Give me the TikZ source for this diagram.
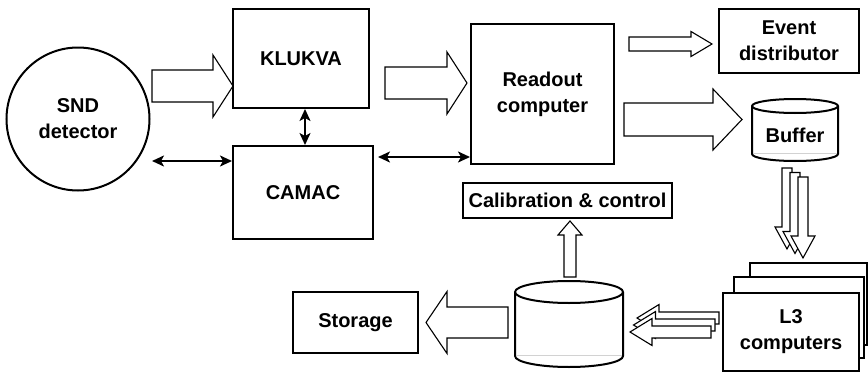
\documentclass[tikz,border=0pt]{standalone}
\usepackage{fontspec}
\setmainfont{Liberation Sans}
\usetikzlibrary{arrows.meta}
% right/left fat arrow: x0 (tail), x1 (tip), y, half body, half head, signed head length
\newcommand\fatH[6]{%
  \draw[fat] (#1,{#3-#4}) -- ({#2-(#6)},{#3-#4}) -- ({#2-(#6)},{#3-#5}) -- (#2,#3)
    -- ({#2-(#6)},{#3+#5}) -- ({#2-(#6)},{#3+#4}) -- (#1,{#3+#4}) -- cycle;}
% up/down fat arrow: x, y0 (tail), y1 (tip), half body, half head, signed head length
\newcommand\fatV[6]{%
  \draw[fat] ({#1-#4},#2) -- ({#1-#4},{#3-(#6)}) -- ({#1-#5},{#3-(#6)}) -- (#1,#3)
    -- ({#1+#5},{#3-(#6)}) -- ({#1+#4},{#3-(#6)}) -- ({#1+#4},#2) -- cycle;}
% cylinder: cx, ytop, ybottom, rx, ry
\newcommand\cylshape[5]{%
  \draw[line width=2pt,fill=white] ({#1-#4},#2) -- ({#1-#4},#3)
    arc[start angle=180,end angle=360,x radius=#4pt,y radius=#5pt] -- ({#1+#4},#2)
    arc[start angle=0,end angle=180,x radius=#4pt,y radius=#5pt] -- cycle;
  \draw[line width=2pt] ({#1-#4},#2) arc[start angle=180,end angle=360,x radius=#4pt,y radius=#5pt];
  \draw[gray!35,line width=0.8pt] ({#1-#4+1},{#3-1}) -- ({#1+#4-1},{#3-1});}
\begin{document}
\begin{tikzpicture}[x=1pt,y=-1pt,
  txt/.style={font=\fontsize{20}{26}\selectfont\bfseries,align=center,inner sep=0pt},
  box/.style={txt,draw,line width=2pt,fill=white},
  fat/.style={draw,line width=1.1pt,fill=white,line join=miter},
  dbl/.style={line width=1.8pt,{Stealth[length=12pt,width=11pt,inset=3pt]}-{Stealth[length=12pt,width=11pt,inset=3pt]}}]
\useasboundingbox (0,0) rectangle (868,372);

% nodes
\node[box,circle,minimum size=143pt] (snd) at (78,119) {SND\\detector};
\node[box,minimum width=136pt,minimum height=99pt] (klukva) at (301,58.5) {KLUKVA};
\node[box,minimum width=140pt,minimum height=93pt] (camac) at (303,192.5) {CAMAC};
\node[box,minimum width=143pt,minimum height=140pt] (readout) at (542.5,94) {Readout\\computer};
\node[box,minimum width=140pt,minimum height=64pt] (event) at (789,41) {Event\\distributor};
\node[box,minimum width=209pt,minimum height=35pt] (calib) at (567.5,200.5) {Calibration \& control};
\node[box,minimum width=125pt,minimum height=61pt] (storage) at (355.5,322.5) {Storage};

% buffer cylinder
\cylshape{795}{106}{154}{43}{7}
\node[txt] (buffer) at (795,135) {Buffer};
% central disk
\cylshape{569}{292}{356}{54}{11}
\coordinate (disk) at (569,324);

% L3 computers (stacked)
\draw[line width=2pt,fill=white] (750,263) rectangle (867,345);
\draw[line width=2pt,fill=white] (734,277) rectangle (864,358);
\node[box,minimum width=136pt,minimum height=78pt] (l3) at (791,332) {L3\\computers};

% fat arrows
\fatH{152}{233}{86}{16}{31}{20}
\fatH{385}{467}{83}{16}{31}{20}
\fatH{629}{712}{44}{7}{12.5}{21}
\fatH{624}{742}{119.5}{16.5}{30.5}{29}
\fatH{508}{426}{322.5}{15.5}{31}{-21}
\fatV{570}{277}{221}{6}{12}{-14}
% triple down arrows (buffer -> L3)
\fatV{787}{168}{249}{5}{12}{22}
\fatV{795}{172.5}{253.5}{5}{12}{22}
\fatV{803}{177}{258}{5}{12}{22}
% triple left arrows (L3 -> disk)
\fatH{719}{637}{318}{6}{13.5}{-22}
\fatH{715}{633.5}{325}{6}{13.5}{-22}
\fatH{711}{630}{332}{6}{13.5}{-22}

% double arrows
\coordinate (kx) at (305,0);
\draw[dbl] (klukva.south -| kx) -- (camac.north -| kx);
\coordinate (sndr) at (152,161);
\draw[dbl] (sndr) -- (sndr -| camac.west);
\coordinate (camr) at (378,157);
\draw[dbl] (camr) -- (camr -| readout.west);
\end{tikzpicture}
\end{document}
